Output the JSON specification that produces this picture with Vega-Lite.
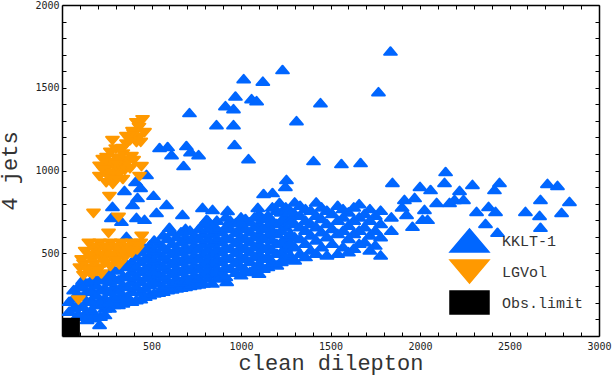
{"$schema":"https://vega.github.io/schema/vega-lite/v6.json","width":537,"height":331,"autosize":"none","padding":{"left":62,"top":5,"right":14,"bottom":39},"background":"white","config":{"view":{"stroke":null}},"resolve":{"axis":{"x":"independent","y":"independent"}},"datasets":{"pts":[
{"x":40,"y":150,"m":"KKLT-1"},{"x":40,"y":210,"m":"KKLT-1"},{"x":90,"y":130,"m":"KKLT-1"},{"x":90,"y":190,"m":"KKLT-1"},{"x":90,"y":250,"m":"KKLT-1"},{"x":90,"y":300,"m":"KKLT-1"},
{"x":140,"y":100,"m":"KKLT-1"},{"x":140,"y":150,"m":"KKLT-1"},{"x":140,"y":210,"m":"KKLT-1"},{"x":140,"y":270,"m":"KKLT-1"},{"x":140,"y":320,"m":"KKLT-1"},
{"x":190,"y":120,"m":"KKLT-1"},{"x":210,"y":70,"m":"KKLT-1"},{"x":190,"y":190,"m":"KKLT-1"},{"x":190,"y":250,"m":"KKLT-1"},{"x":190,"y":310,"m":"KKLT-1"},{"x":190,"y":350,"m":"KKLT-1"},
{"x":240,"y":130,"m":"KKLT-1"},{"x":240,"y":170,"m":"KKLT-1"},{"x":240,"y":230,"m":"KKLT-1"},{"x":240,"y":290,"m":"KKLT-1"},{"x":240,"y":350,"m":"KKLT-1"},
{"x":290,"y":190,"m":"KKLT-1"},{"x":290,"y":240,"m":"KKLT-1"},{"x":290,"y":300,"m":"KKLT-1"},{"x":290,"y":350,"m":"KKLT-1"},{"x":290,"y":400,"m":"KKLT-1"},
{"x":340,"y":200,"m":"KKLT-1"},{"x":340,"y":250,"m":"KKLT-1"},{"x":340,"y":310,"m":"KKLT-1"},{"x":340,"y":360,"m":"KKLT-1"},{"x":340,"y":420,"m":"KKLT-1"},
{"x":390,"y":210,"m":"KKLT-1"},{"x":390,"y":270,"m":"KKLT-1"},{"x":390,"y":330,"m":"KKLT-1"},{"x":390,"y":390,"m":"KKLT-1"},{"x":390,"y":450,"m":"KKLT-1"},
{"x":440,"y":225,"m":"KKLT-1"},{"x":440,"y":270,"m":"KKLT-1"},{"x":440,"y":330,"m":"KKLT-1"},{"x":440,"y":390,"m":"KKLT-1"},{"x":440,"y":450,"m":"KKLT-1"},{"x":440,"y":510,"m":"KKLT-1"},
{"x":490,"y":250,"m":"KKLT-1"},{"x":490,"y":310,"m":"KKLT-1"},{"x":490,"y":370,"m":"KKLT-1"},{"x":490,"y":430,"m":"KKLT-1"},{"x":490,"y":490,"m":"KKLT-1"},{"x":490,"y":550,"m":"KKLT-1"},
{"x":540,"y":265,"m":"KKLT-1"},{"x":540,"y":320,"m":"KKLT-1"},{"x":540,"y":380,"m":"KKLT-1"},{"x":540,"y":440,"m":"KKLT-1"},{"x":540,"y":500,"m":"KKLT-1"},{"x":540,"y":560,"m":"KKLT-1"},
{"x":590,"y":280,"m":"KKLT-1"},{"x":590,"y":340,"m":"KKLT-1"},{"x":590,"y":400,"m":"KKLT-1"},{"x":590,"y":460,"m":"KKLT-1"},{"x":590,"y":520,"m":"KKLT-1"},{"x":590,"y":590,"m":"KKLT-1"},
{"x":640,"y":290,"m":"KKLT-1"},{"x":640,"y":350,"m":"KKLT-1"},{"x":640,"y":410,"m":"KKLT-1"},{"x":640,"y":470,"m":"KKLT-1"},{"x":640,"y":530,"m":"KKLT-1"},{"x":640,"y":600,"m":"KKLT-1"},
{"x":690,"y":300,"m":"KKLT-1"},{"x":690,"y":360,"m":"KKLT-1"},{"x":690,"y":420,"m":"KKLT-1"},{"x":690,"y":480,"m":"KKLT-1"},{"x":690,"y":540,"m":"KKLT-1"},{"x":690,"y":600,"m":"KKLT-1"},{"x":690,"y":650,"m":"KKLT-1"},
{"x":740,"y":310,"m":"KKLT-1"},{"x":740,"y":370,"m":"KKLT-1"},{"x":740,"y":430,"m":"KKLT-1"},{"x":740,"y":490,"m":"KKLT-1"},{"x":740,"y":550,"m":"KKLT-1"},{"x":740,"y":610,"m":"KKLT-1"},
{"x":790,"y":320,"m":"KKLT-1"},{"x":790,"y":380,"m":"KKLT-1"},{"x":790,"y":440,"m":"KKLT-1"},{"x":790,"y":500,"m":"KKLT-1"},{"x":790,"y":560,"m":"KKLT-1"},{"x":790,"y":620,"m":"KKLT-1"},{"x":790,"y":680,"m":"KKLT-1"},
{"x":840,"y":320,"m":"KKLT-1"},{"x":840,"y":380,"m":"KKLT-1"},{"x":840,"y":440,"m":"KKLT-1"},{"x":840,"y":500,"m":"KKLT-1"},{"x":840,"y":560,"m":"KKLT-1"},{"x":840,"y":620,"m":"KKLT-1"},{"x":840,"y":670,"m":"KKLT-1"},
{"x":890,"y":380,"m":"KKLT-1"},{"x":890,"y":450,"m":"KKLT-1"},{"x":890,"y":510,"m":"KKLT-1"},{"x":890,"y":570,"m":"KKLT-1"},{"x":890,"y":630,"m":"KKLT-1"},
{"x":920,"y":330,"m":"KKLT-1"},{"x":940,"y":410,"m":"KKLT-1"},{"x":940,"y":470,"m":"KKLT-1"},{"x":940,"y":530,"m":"KKLT-1"},{"x":940,"y":590,"m":"KKLT-1"},{"x":940,"y":650,"m":"KKLT-1"},{"x":940,"y":700,"m":"KKLT-1"},
{"x":1000,"y":370,"m":"KKLT-1"},{"x":1000,"y":420,"m":"KKLT-1"},{"x":1000,"y":480,"m":"KKLT-1"},{"x":1000,"y":540,"m":"KKLT-1"},{"x":1000,"y":600,"m":"KKLT-1"},{"x":1000,"y":660,"m":"KKLT-1"},{"x":1000,"y":720,"m":"KKLT-1"},
{"x":1050,"y":390,"m":"KKLT-1"},{"x":1050,"y":450,"m":"KKLT-1"},{"x":1050,"y":510,"m":"KKLT-1"},{"x":1050,"y":570,"m":"KKLT-1"},{"x":1050,"y":630,"m":"KKLT-1"},{"x":1050,"y":690,"m":"KKLT-1"},
{"x":1100,"y":380,"m":"KKLT-1"},{"x":1100,"y":440,"m":"KKLT-1"},{"x":1100,"y":500,"m":"KKLT-1"},{"x":1100,"y":560,"m":"KKLT-1"},{"x":1100,"y":620,"m":"KKLT-1"},{"x":1100,"y":680,"m":"KKLT-1"},{"x":1100,"y":740,"m":"KKLT-1"},
{"x":1150,"y":420,"m":"KKLT-1"},{"x":1150,"y":480,"m":"KKLT-1"},{"x":1150,"y":540,"m":"KKLT-1"},{"x":1150,"y":610,"m":"KKLT-1"},{"x":1150,"y":670,"m":"KKLT-1"},{"x":1150,"y":730,"m":"KKLT-1"},
{"x":1200,"y":430,"m":"KKLT-1"},{"x":1200,"y":500,"m":"KKLT-1"},{"x":1200,"y":560,"m":"KKLT-1"},{"x":1200,"y":620,"m":"KKLT-1"},{"x":1200,"y":680,"m":"KKLT-1"},{"x":1200,"y":760,"m":"KKLT-1"},
{"x":1250,"y":470,"m":"KKLT-1"},{"x":1250,"y":530,"m":"KKLT-1"},{"x":1250,"y":590,"m":"KKLT-1"},{"x":1250,"y":660,"m":"KKLT-1"},{"x":1250,"y":720,"m":"KKLT-1"},{"x":1250,"y":780,"m":"KKLT-1"},
{"x":1300,"y":460,"m":"KKLT-1"},{"x":1300,"y":540,"m":"KKLT-1"},{"x":1300,"y":600,"m":"KKLT-1"},{"x":1300,"y":680,"m":"KKLT-1"},{"x":1300,"y":740,"m":"KKLT-1"},{"x":1300,"y":810,"m":"KKLT-1"},
{"x":1360,"y":480,"m":"KKLT-1"},{"x":1360,"y":560,"m":"KKLT-1"},{"x":1360,"y":640,"m":"KKLT-1"},{"x":1360,"y":700,"m":"KKLT-1"},{"x":1360,"y":770,"m":"KKLT-1"},
{"x":1420,"y":500,"m":"KKLT-1"},{"x":1420,"y":580,"m":"KKLT-1"},{"x":1420,"y":660,"m":"KKLT-1"},{"x":1420,"y":730,"m":"KKLT-1"},{"x":1420,"y":810,"m":"KKLT-1"},
{"x":1480,"y":490,"m":"KKLT-1"},{"x":1480,"y":600,"m":"KKLT-1"},{"x":1480,"y":680,"m":"KKLT-1"},{"x":1480,"y":760,"m":"KKLT-1"},
{"x":1540,"y":500,"m":"KKLT-1"},{"x":1540,"y":620,"m":"KKLT-1"},{"x":1540,"y":700,"m":"KKLT-1"},{"x":1540,"y":790,"m":"KKLT-1"},
{"x":1600,"y":510,"m":"KKLT-1"},{"x":1600,"y":590,"m":"KKLT-1"},{"x":1600,"y":670,"m":"KKLT-1"},{"x":1600,"y":750,"m":"KKLT-1"},
{"x":1660,"y":560,"m":"KKLT-1"},{"x":1660,"y":640,"m":"KKLT-1"},{"x":1660,"y":720,"m":"KKLT-1"},{"x":1660,"y":800,"m":"KKLT-1"},
{"x":1720,"y":520,"m":"KKLT-1"},{"x":1720,"y":610,"m":"KKLT-1"},{"x":1720,"y":700,"m":"KKLT-1"},{"x":1720,"y":770,"m":"KKLT-1"},
{"x":1780,"y":490,"m":"KKLT-1"},{"x":1780,"y":600,"m":"KKLT-1"},{"x":1780,"y":680,"m":"KKLT-1"},{"x":1780,"y":760,"m":"KKLT-1"},{"x":1840,"y":640,"m":"KKLT-1"},{"x":1840,"y":720,"m":"KKLT-1"},{"x":1900,"y":780,"m":"KKLT-1"},
{"x":65,"y":170,"m":"KKLT-1"},{"x":65,"y":230,"m":"KKLT-1"},{"x":65,"y":280,"m":"KKLT-1"},{"x":115,"y":120,"m":"KKLT-1"},{"x":115,"y":180,"m":"KKLT-1"},{"x":115,"y":240,"m":"KKLT-1"},{"x":115,"y":300,"m":"KKLT-1"},{"x":115,"y":340,"m":"KKLT-1"},
{"x":165,"y":110,"m":"KKLT-1"},{"x":165,"y":160,"m":"KKLT-1"},{"x":165,"y":220,"m":"KKLT-1"},{"x":165,"y":280,"m":"KKLT-1"},{"x":165,"y":340,"m":"KKLT-1"},
{"x":215,"y":120,"m":"KKLT-1"},{"x":215,"y":190,"m":"KKLT-1"},{"x":215,"y":220,"m":"KKLT-1"},{"x":215,"y":280,"m":"KKLT-1"},{"x":215,"y":340,"m":"KKLT-1"},
{"x":265,"y":170,"m":"KKLT-1"},{"x":265,"y":210,"m":"KKLT-1"},{"x":265,"y":270,"m":"KKLT-1"},{"x":265,"y":330,"m":"KKLT-1"},{"x":265,"y":380,"m":"KKLT-1"},
{"x":315,"y":190,"m":"KKLT-1"},{"x":315,"y":230,"m":"KKLT-1"},{"x":315,"y":280,"m":"KKLT-1"},{"x":315,"y":340,"m":"KKLT-1"},{"x":315,"y":400,"m":"KKLT-1"},
{"x":365,"y":210,"m":"KKLT-1"},{"x":365,"y":240,"m":"KKLT-1"},{"x":365,"y":300,"m":"KKLT-1"},{"x":365,"y":360,"m":"KKLT-1"},{"x":365,"y":430,"m":"KKLT-1"},
{"x":415,"y":220,"m":"KKLT-1"},{"x":415,"y":300,"m":"KKLT-1"},{"x":415,"y":360,"m":"KKLT-1"},{"x":415,"y":420,"m":"KKLT-1"},{"x":415,"y":480,"m":"KKLT-1"},
{"x":465,"y":240,"m":"KKLT-1"},{"x":465,"y":290,"m":"KKLT-1"},{"x":465,"y":350,"m":"KKLT-1"},{"x":465,"y":410,"m":"KKLT-1"},{"x":465,"y":470,"m":"KKLT-1"},{"x":465,"y":530,"m":"KKLT-1"},
{"x":515,"y":260,"m":"KKLT-1"},{"x":515,"y":340,"m":"KKLT-1"},{"x":515,"y":400,"m":"KKLT-1"},{"x":515,"y":460,"m":"KKLT-1"},{"x":515,"y":520,"m":"KKLT-1"},{"x":515,"y":580,"m":"KKLT-1"},
{"x":565,"y":270,"m":"KKLT-1"},{"x":565,"y":300,"m":"KKLT-1"},{"x":565,"y":360,"m":"KKLT-1"},{"x":565,"y":420,"m":"KKLT-1"},{"x":565,"y":480,"m":"KKLT-1"},{"x":565,"y":540,"m":"KKLT-1"},{"x":565,"y":610,"m":"KKLT-1"},
{"x":615,"y":285,"m":"KKLT-1"},{"x":615,"y":320,"m":"KKLT-1"},{"x":615,"y":380,"m":"KKLT-1"},{"x":615,"y":440,"m":"KKLT-1"},{"x":615,"y":500,"m":"KKLT-1"},{"x":615,"y":560,"m":"KKLT-1"},{"x":615,"y":630,"m":"KKLT-1"},
{"x":665,"y":295,"m":"KKLT-1"},{"x":665,"y":330,"m":"KKLT-1"},{"x":665,"y":390,"m":"KKLT-1"},{"x":665,"y":450,"m":"KKLT-1"},{"x":665,"y":510,"m":"KKLT-1"},{"x":665,"y":570,"m":"KKLT-1"},{"x":665,"y":630,"m":"KKLT-1"},
{"x":715,"y":305,"m":"KKLT-1"},{"x":715,"y":340,"m":"KKLT-1"},{"x":715,"y":400,"m":"KKLT-1"},{"x":715,"y":460,"m":"KKLT-1"},{"x":715,"y":520,"m":"KKLT-1"},{"x":715,"y":580,"m":"KKLT-1"},{"x":715,"y":640,"m":"KKLT-1"},
{"x":765,"y":315,"m":"KKLT-1"},{"x":765,"y":350,"m":"KKLT-1"},{"x":765,"y":410,"m":"KKLT-1"},{"x":765,"y":470,"m":"KKLT-1"},{"x":765,"y":530,"m":"KKLT-1"},{"x":765,"y":590,"m":"KKLT-1"},{"x":765,"y":650,"m":"KKLT-1"},
{"x":815,"y":350,"m":"KKLT-1"},{"x":815,"y":410,"m":"KKLT-1"},{"x":815,"y":470,"m":"KKLT-1"},{"x":815,"y":530,"m":"KKLT-1"},{"x":815,"y":590,"m":"KKLT-1"},{"x":815,"y":650,"m":"KKLT-1"},{"x":815,"y":700,"m":"KKLT-1"},
{"x":865,"y":350,"m":"KKLT-1"},{"x":865,"y":410,"m":"KKLT-1"},{"x":865,"y":470,"m":"KKLT-1"},{"x":865,"y":530,"m":"KKLT-1"},{"x":865,"y":590,"m":"KKLT-1"},{"x":865,"y":650,"m":"KKLT-1"},{"x":865,"y":700,"m":"KKLT-1"},
{"x":915,"y":360,"m":"KKLT-1"},{"x":915,"y":420,"m":"KKLT-1"},{"x":915,"y":480,"m":"KKLT-1"},{"x":915,"y":540,"m":"KKLT-1"},{"x":915,"y":600,"m":"KKLT-1"},{"x":915,"y":660,"m":"KKLT-1"},{"x":915,"y":720,"m":"KKLT-1"},
{"x":970,"y":385,"m":"KKLT-1"},{"x":970,"y":445,"m":"KKLT-1"},{"x":970,"y":505,"m":"KKLT-1"},{"x":970,"y":565,"m":"KKLT-1"},{"x":970,"y":625,"m":"KKLT-1"},{"x":970,"y":685,"m":"KKLT-1"},
{"x":1025,"y":400,"m":"KKLT-1"},{"x":1025,"y":470,"m":"KKLT-1"},{"x":1025,"y":530,"m":"KKLT-1"},{"x":1025,"y":590,"m":"KKLT-1"},{"x":1025,"y":650,"m":"KKLT-1"},{"x":1025,"y":710,"m":"KKLT-1"},
{"x":1075,"y":410,"m":"KKLT-1"},{"x":1075,"y":480,"m":"KKLT-1"},{"x":1075,"y":540,"m":"KKLT-1"},{"x":1075,"y":600,"m":"KKLT-1"},{"x":1075,"y":660,"m":"KKLT-1"},{"x":1075,"y":720,"m":"KKLT-1"},
{"x":1125,"y":410,"m":"KKLT-1"},{"x":1125,"y":470,"m":"KKLT-1"},{"x":1125,"y":530,"m":"KKLT-1"},{"x":1125,"y":590,"m":"KKLT-1"},{"x":1125,"y":650,"m":"KKLT-1"},{"x":1125,"y":710,"m":"KKLT-1"},
{"x":1175,"y":450,"m":"KKLT-1"},{"x":1175,"y":520,"m":"KKLT-1"},{"x":1175,"y":580,"m":"KKLT-1"},{"x":1175,"y":640,"m":"KKLT-1"},{"x":1175,"y":700,"m":"KKLT-1"},{"x":1175,"y":780,"m":"KKLT-1"},
{"x":1225,"y":450,"m":"KKLT-1"},{"x":1225,"y":510,"m":"KKLT-1"},{"x":1225,"y":570,"m":"KKLT-1"},{"x":1225,"y":640,"m":"KKLT-1"},{"x":1225,"y":700,"m":"KKLT-1"},{"x":1225,"y":750,"m":"KKLT-1"},
{"x":1275,"y":490,"m":"KKLT-1"},{"x":1275,"y":560,"m":"KKLT-1"},{"x":1275,"y":620,"m":"KKLT-1"},{"x":1275,"y":700,"m":"KKLT-1"},{"x":1275,"y":760,"m":"KKLT-1"},
{"x":1330,"y":500,"m":"KKLT-1"},{"x":1330,"y":590,"m":"KKLT-1"},{"x":1330,"y":660,"m":"KKLT-1"},{"x":1330,"y":730,"m":"KKLT-1"},{"x":1330,"y":790,"m":"KKLT-1"},
{"x":1390,"y":520,"m":"KKLT-1"},{"x":1390,"y":610,"m":"KKLT-1"},{"x":1390,"y":680,"m":"KKLT-1"},{"x":1390,"y":760,"m":"KKLT-1"},
{"x":1450,"y":540,"m":"KKLT-1"},{"x":1450,"y":630,"m":"KKLT-1"},{"x":1450,"y":710,"m":"KKLT-1"},{"x":1450,"y":780,"m":"KKLT-1"},
{"x":1510,"y":560,"m":"KKLT-1"},{"x":1510,"y":650,"m":"KKLT-1"},{"x":1510,"y":740,"m":"KKLT-1"},
{"x":1570,"y":540,"m":"KKLT-1"},{"x":1570,"y":640,"m":"KKLT-1"},{"x":1570,"y":720,"m":"KKLT-1"},{"x":1570,"y":770,"m":"KKLT-1"},
{"x":1630,"y":530,"m":"KKLT-1"},{"x":1630,"y":620,"m":"KKLT-1"},{"x":1630,"y":700,"m":"KKLT-1"},{"x":1630,"y":780,"m":"KKLT-1"},
{"x":1690,"y":570,"m":"KKLT-1"},{"x":1690,"y":660,"m":"KKLT-1"},{"x":1690,"y":740,"m":"KKLT-1"},{"x":1750,"y":550,"m":"KKLT-1"},{"x":1750,"y":640,"m":"KKLT-1"},{"x":1750,"y":730,"m":"KKLT-1"},
{"x":1835,"y":1722,"m":"KKLT-1"},{"x":1232,"y":1610,"m":"KKLT-1"},{"x":1015,"y":1555,"m":"KKLT-1"},{"x":1122,"y":1540,"m":"KKLT-1"},{"x":969,"y":1450,"m":"KKLT-1"},{"x":1059,"y":1434,"m":"KKLT-1"},{"x":1087,"y":1422,"m":"KKLT-1"},{"x":913,"y":1392,"m":"KKLT-1"},{"x":958,"y":1374,"m":"KKLT-1"},{"x":712,"y":1350,"m":"KKLT-1"},{"x":863,"y":1277,"m":"KKLT-1"},{"x":958,"y":1277,"m":"KKLT-1"},{"x":1310,"y":1301,"m":"KKLT-1"},{"x":964,"y":1157,"m":"KKLT-1"},{"x":1042,"y":1072,"m":"KKLT-1"},{"x":545,"y":1139,"m":"KKLT-1"},{"x":590,"y":1145,"m":"KKLT-1"},{"x":695,"y":1151,"m":"KKLT-1"},{"x":718,"y":1114,"m":"KKLT-1"},{"x":763,"y":1096,"m":"KKLT-1"},{"x":612,"y":1096,"m":"KKLT-1"},{"x":679,"y":1030,"m":"KKLT-1"},{"x":472,"y":976,"m":"KKLT-1"},{"x":1254,"y":946,"m":"KKLT-1"},{"x":1248,"y":904,"m":"KKLT-1"},{"x":1126,"y":861,"m":"KKLT-1"},{"x":1176,"y":867,"m":"KKLT-1"},{"x":349,"y":880,"m":"KKLT-1"},{"x":411,"y":934,"m":"KKLT-1"},{"x":439,"y":898,"m":"KKLT-1"},{"x":511,"y":850,"m":"KKLT-1"},{"x":422,"y":837,"m":"KKLT-1"},
{"x":1768,"y":1476,"m":"KKLT-1"},{"x":1444,"y":1410,"m":"KKLT-1"},{"x":1405,"y":1060,"m":"KKLT-1"},{"x":1561,"y":1042,"m":"KKLT-1"},{"x":1668,"y":1048,"m":"KKLT-1"},
{"x":1846,"y":928,"m":"KKLT-1"},{"x":2143,"y":994,"m":"KKLT-1"},{"x":2137,"y":928,"m":"KKLT-1"},{"x":2059,"y":885,"m":"KKLT-1"},{"x":2000,"y":904,"m":"KKLT-1"},{"x":1913,"y":825,"m":"KKLT-1"},{"x":1970,"y":837,"m":"KKLT-1"},{"x":2221,"y":880,"m":"KKLT-1"},{"x":2293,"y":916,"m":"KKLT-1"},{"x":2444,"y":928,"m":"KKLT-1"},{"x":2416,"y":885,"m":"KKLT-1"},{"x":2243,"y":825,"m":"KKLT-1"},{"x":2193,"y":825,"m":"KKLT-1"},{"x":2673,"y":825,"m":"KKLT-1"},{"x":2712,"y":922,"m":"KKLT-1"},{"x":2768,"y":910,"m":"KKLT-1"},{"x":2835,"y":813,"m":"KKLT-1"},
{"x":2316,"y":753,"m":"KKLT-1"},{"x":2383,"y":783,"m":"KKLT-1"},{"x":2422,"y":753,"m":"KKLT-1"},{"x":2366,"y":680,"m":"KKLT-1"},{"x":2433,"y":627,"m":"KKLT-1"},{"x":2589,"y":753,"m":"KKLT-1"},{"x":2668,"y":729,"m":"KKLT-1"},{"x":2791,"y":747,"m":"KKLT-1"},{"x":2673,"y":657,"m":"KKLT-1"},{"x":2093,"y":807,"m":"KKLT-1"},{"x":2165,"y":807,"m":"KKLT-1"},{"x":2025,"y":765,"m":"KKLT-1"},{"x":1925,"y":735,"m":"KKLT-1"},{"x":2014,"y":705,"m":"KKLT-1"},{"x":1958,"y":663,"m":"KKLT-1"},{"x":2042,"y":705,"m":"KKLT-1"},
{"x":785,"y":777,"m":"KKLT-1"},{"x":841,"y":765,"m":"KKLT-1"},{"x":925,"y":759,"m":"KKLT-1"},{"x":584,"y":795,"m":"KKLT-1"},{"x":528,"y":747,"m":"KKLT-1"},{"x":673,"y":735,"m":"KKLT-1"},{"x":282,"y":783,"m":"KKLT-1"},{"x":394,"y":795,"m":"KKLT-1"},{"x":276,"y":717,"m":"KKLT-1"},{"x":332,"y":693,"m":"KKLT-1"},{"x":416,"y":717,"m":"KKLT-1"},{"x":461,"y":705,"m":"KKLT-1"},{"x":360,"y":602,"m":"KKLT-1"},{"x":600,"y":657,"m":"KKLT-1"},{"x":807,"y":705,"m":"KKLT-1"},{"x":1094,"y":777,"m":"KKLT-1"},{"x":1215,"y":807,"m":"KKLT-1"},{"x":992,"y":693,"m":"KKLT-1"},{"x":1232,"y":464,"m":"KKLT-1"},
{"x":150,"y":560,"m":"LGVol"},{"x":210,"y":560,"m":"LGVol"},{"x":270,"y":560,"m":"LGVol"},{"x":330,"y":560,"m":"LGVol"},{"x":390,"y":560,"m":"LGVol"},{"x":440,"y":560,"m":"LGVol"},
{"x":130,"y":510,"m":"LGVol"},{"x":190,"y":510,"m":"LGVol"},{"x":250,"y":510,"m":"LGVol"},{"x":310,"y":510,"m":"LGVol"},{"x":370,"y":510,"m":"LGVol"},{"x":420,"y":520,"m":"LGVol"},
{"x":110,"y":460,"m":"LGVol"},{"x":170,"y":460,"m":"LGVol"},{"x":230,"y":460,"m":"LGVol"},{"x":290,"y":460,"m":"LGVol"},{"x":350,"y":470,"m":"LGVol"},
{"x":100,"y":410,"m":"LGVol"},{"x":150,"y":410,"m":"LGVol"},{"x":210,"y":410,"m":"LGVol"},{"x":270,"y":420,"m":"LGVol"},{"x":320,"y":430,"m":"LGVol"},
{"x":120,"y":365,"m":"LGVol"},{"x":170,"y":370,"m":"LGVol"},{"x":220,"y":375,"m":"LGVol"},
{"x":180,"y":535,"m":"LGVol"},{"x":240,"y":535,"m":"LGVol"},{"x":300,"y":535,"m":"LGVol"},{"x":360,"y":535,"m":"LGVol"},{"x":420,"y":540,"m":"LGVol"},{"x":160,"y":485,"m":"LGVol"},{"x":220,"y":485,"m":"LGVol"},{"x":280,"y":485,"m":"LGVol"},{"x":340,"y":490,"m":"LGVol"},{"x":390,"y":500,"m":"LGVol"},{"x":120,"y":435,"m":"LGVol"},{"x":180,"y":435,"m":"LGVol"},{"x":240,"y":440,"m":"LGVol"},{"x":300,"y":450,"m":"LGVol"},{"x":150,"y":385,"m":"LGVol"},{"x":195,"y":390,"m":"LGVol"},
{"x":176,"y":741,"m":"LGVol"},{"x":260,"y":620,"m":"LGVol"},{"x":316,"y":717,"m":"LGVol"},{"x":445,"y":602,"m":"LGVol"},{"x":92,"y":217,"m":"LGVol"},{"x":265,"y":843,"m":"LGVol"},
{"x":450,"y":1307,"m":"LGVol"},{"x":416,"y":1289,"m":"LGVol"},{"x":394,"y":1235,"m":"LGVol"},{"x":461,"y":1229,"m":"LGVol"},{"x":360,"y":1205,"m":"LGVol"},{"x":282,"y":1181,"m":"LGVol"},{"x":416,"y":1169,"m":"LGVol"},{"x":338,"y":1133,"m":"LGVol"},{"x":388,"y":1084,"m":"LGVol"},{"x":249,"y":1078,"m":"LGVol"},{"x":444,"y":1024,"m":"LGVol"},{"x":433,"y":964,"m":"LGVol"},{"x":209,"y":964,"m":"LGVol"},{"x":303,"y":1076,"m":"LGVol"},{"x":228,"y":1066,"m":"LGVol"},{"x":284,"y":1046,"m":"LGVol"},{"x":359,"y":1046,"m":"LGVol"},{"x":247,"y":1006,"m":"LGVol"},{"x":303,"y":1006,"m":"LGVol"},{"x":349,"y":1026,"m":"LGVol"},{"x":210,"y":1026,"m":"LGVol"},{"x":247,"y":926,"m":"LGVol"},{"x":284,"y":916,"m":"LGVol"},{"x":340,"y":946,"m":"LGVol"},{"x":293,"y":966,"m":"LGVol"},{"x":405,"y":1187,"m":"LGVol"},{"x":430,"y":1200,"m":"LGVol"},
{"x":270,"y":1110,"m":"LGVol"},{"x":300,"y":1130,"m":"LGVol"},{"x":330,"y":1060,"m":"LGVol"},{"x":260,"y":1040,"m":"LGVol"},{"x":230,"y":1000,"m":"LGVol"},{"x":280,"y":980,"m":"LGVol"},{"x":320,"y":980,"m":"LGVol"},{"x":260,"y":960,"m":"LGVol"},{"x":300,"y":940,"m":"LGVol"},{"x":350,"y":1000,"m":"LGVol"},{"x":380,"y":1010,"m":"LGVol"},{"x":400,"y":1060,"m":"LGVol"},{"x":340,"y":1100,"m":"LGVol"},{"x":360,"y":1160,"m":"LGVol"},{"x":380,"y":1180,"m":"LGVol"},{"x":400,"y":1220,"m":"LGVol"},{"x":430,"y":1260,"m":"LGVol"},{"x":440,"y":1170,"m":"LGVol"},{"x":300,"y":1030,"m":"LGVol"},
{"x":50,"y":55,"m":"Obs.limit"}
],"limit":[{"x0":0,"x1":100,"y0":0,"y1":110}]},
"layer":[
{"data":{"name":"pts"},"mark":{"type":"point","filled":true,"opacity":1,"size":90,"strokeWidth":2,"strokeJoin":"round"},
"encoding":{
"x":{"field":"x","type":"quantitative","scale":{"domain":[0,3000],"nice":false},"title":"clean dilepton",
"axis":{"values":[100,200,300,400,500,600,700,800,900,1000,1100,1200,1300,1400,1500,1600,1700,1800,1900,2000,2100,2200,2300,2400,2500,2600,2700,2800,2900,3000],"labelExpr":"datum.value % 500 === 0 ? datum.value : ''","grid":false,"tickSize":-4,"tickColor":"#000","tickWidth":1,"domainColor":"#000","domainWidth":1.5,"labelFont":"DejaVu Sans Mono","labelFontSize":10,"labelColor":"#222","labelPadding":9,"labelOverlap":false,"labelFlush":false,"titleFont":"Liberation Mono","titleFontSize":22,"titleFontWeight":"normal","titleColor":"#333","titlePadding":1}},
"y":{"field":"y","type":"quantitative","scale":{"domain":[0,2000],"nice":false},"title":"4 jets",
"axis":{"values":[100,200,300,400,500,600,700,800,900,1000,1100,1200,1300,1400,1500,1600,1700,1800,1900,2000],"labelExpr":"datum.value % 500 === 0 ? datum.value : ''","grid":false,"tickSize":-4,"tickColor":"#000","tickWidth":1,"domainColor":"#000","domainWidth":1.5,"labelFont":"DejaVu Sans Mono","labelFontSize":10,"labelColor":"#222","labelPadding":7,"labelOverlap":false,"titleFont":"Liberation Mono","titleFontSize":22,"titleFontWeight":"normal","titleColor":"#333","titlePadding":13}},
"color":{"field":"m","type":"nominal","scale":{"domain":["KKLT-1","LGVol","Obs.limit"],"range":["#0066ff","#ff9900","#000000"]},"legend":{"orient":"none","legendX":392,"legendY":220,"title":null,"symbolSize":841,"rowPadding":-1,"labelFont":"Liberation Mono","labelFontSize":15,"labelColor":"#333","labelOffset":17}},
"stroke":{"field":"m","type":"nominal","scale":{"domain":["KKLT-1","LGVol","Obs.limit"],"range":["#0066ff","#ff9900","#000000"]}},
"shape":{"field":"m","type":"nominal","scale":{"domain":["KKLT-1","LGVol","Obs.limit"],"range":["M-1.345,0.8L0,-0.8L1.345,0.8Z","M-1.345,-0.8L1.345,-0.8L0,0.8Z","M-1.345,-0.8L1.345,-0.8L1.345,0.8L-1.345,0.8Z"]}}
}},
{"data":{"name":"limit"},"mark":{"type":"rect","color":"#000"},
"encoding":{
"x":{"field":"x0","type":"quantitative","axis":{"orient":"top","values":[100,200,300,400,500,600,700,800,900,1000,1100,1200,1300,1400,1500,1600,1700,1800,1900,2000,2100,2200,2300,2400,2500,2600,2700,2800,2900,3000],"labels":false,"title":null,"grid":false,"tickSize":-4,"tickColor":"#000","domainColor":"#000","domainWidth":1.5}},
"x2":{"field":"x1"},
"y":{"field":"y0","type":"quantitative","axis":{"orient":"right","values":[100,200,300,400,500,600,700,800,900,1000,1100,1200,1300,1400,1500,1600,1700,1800,1900,2000],"labels":false,"title":null,"grid":false,"tickSize":-4,"tickColor":"#000","domainColor":"#000","domainWidth":1.5}},
"y2":{"field":"y1"}
}}
]}
